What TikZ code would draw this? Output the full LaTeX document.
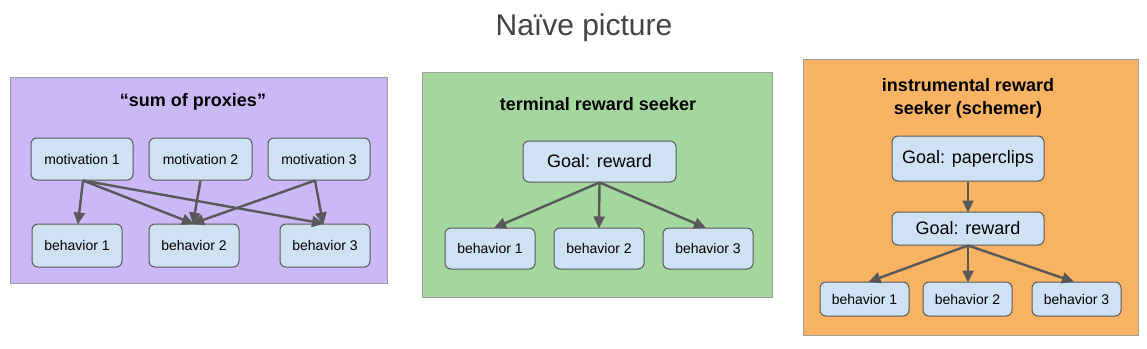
\documentclass[tikz,border=0pt]{standalone}
\usepackage{fontspec}
\setmainfont{Liberation Sans}
\usetikzlibrary{arrows.meta,calc}
\definecolor{titlegray}{HTML}{434343}
\definecolor{purplebg}{HTML}{CBB8F7}
\definecolor{greenbg}{HTML}{A4D79E}
\definecolor{orangebg}{HTML}{F9B463}
\definecolor{nodefill}{HTML}{CFE2F3}
\definecolor{nodeline}{HTML}{595959}
\definecolor{framegray}{HTML}{9E9E9E}
\definecolor{arrowgray}{HTML}{595959}
\tikzset{
  panel/.style={draw=framegray, line width=1pt},
  paneltitle/.style={font=\bfseries\fontsize{18}{23}\selectfont, align=center, text=black},
  smallbox/.style={draw=nodeline, fill=nodefill, rounded corners=6pt, line width=1pt,
    font=\fontsize{14}{16}\selectfont, inner sep=0pt},
  bigbox/.style={draw=nodeline, fill=nodefill, rounded corners=6pt, line width=1pt,
    font=\fontsize{18}{20}\selectfont, inner sep=0pt},
  conn/.style={draw=arrowgray, line width=2.4pt, -{Triangle[length=12pt,width=11pt]}, shorten >=-1pt},
}
\begin{document}
\begin{tikzpicture}[x=1pt,y=-1pt]
\useasboundingbox (0,0) rectangle (1147,348);
\fill[white] (0,0) rectangle (1147,348);
% main title
\node[font=\fontsize{30}{34}\selectfont, text=titlegray] (maintitle) at (584,28) {Naïve picture};

% ---------- left panel ----------
\draw[panel, fill=purplebg] (10,77) rectangle (387,283);
\node[paneltitle] (lt) at (193,102) {“sum of proxies”};
\node[smallbox, minimum width=102pt, minimum height=42pt] (m1) at (82,159) {motivation 1};
\node[smallbox, minimum width=103pt, minimum height=42pt] (m2) at (200.5,159) {motivation 2};
\node[smallbox, minimum width=102pt, minimum height=42pt] (m3) at (319,159) {motivation 3};
\node[smallbox, minimum width=90pt, minimum height=43pt] (lb1) at (77,245.5) {behavior 1};
\node[smallbox, minimum width=90pt, minimum height=43pt] (lb2) at (194,245.5) {behavior 2};
\node[smallbox, minimum width=90pt, minimum height=43pt] (lb3) at (325,245.5) {behavior 3};
\draw[conn] ([xshift=1pt]m1.south) -- ([xshift=1pt]lb1.north);
\draw[conn] ([xshift=1pt]m1.south) -- ([xshift=-1pt]lb2.north);
\draw[conn] ([xshift=1pt]m1.south) -- ([xshift=-2pt]lb3.north);
\draw[conn] (m2.south) -- ([xshift=-1pt]lb2.north);
\draw[conn] ([xshift=-4pt]m3.south) -- ([xshift=-1pt]lb2.north);
\draw[conn] ([xshift=-4pt]m3.south) -- ([xshift=-2pt]lb3.north);

% ---------- middle panel ----------
\draw[panel, fill=greenbg] (422,72) rectangle (772,297);
\node[paneltitle] (mt) at (598,104) {terminal reward seeker};
\node[bigbox, minimum width=153pt, minimum height=41pt] (mg) at (599.5,161.5) {Goal: reward};
\node[smallbox, minimum width=90pt, minimum height=41pt] (mb1) at (490,248.5) {behavior 1};
\node[smallbox, minimum width=90pt, minimum height=41pt] (mb2) at (599,248.5) {behavior 2};
\node[smallbox, minimum width=90pt, minimum height=41pt] (mb3) at (708,248.5) {behavior 3};
\draw[conn] (mg.south) -- ([xshift=5pt]mb1.north);
\draw[conn] (mg.south) -- (mb2.north);
\draw[conn] (mg.south) -- ([xshift=-3pt]mb3.north);

% ---------- right panel ----------
\draw[panel, fill=orangebg] (803,59) rectangle (1138,335);
\node[paneltitle] (rt) at (968,98.5) {instrumental reward\\seeker (schemer)};
\node[bigbox, minimum width=152pt, minimum height=45pt] (rp) at (968,158.5) {Goal: paperclips};
\node[bigbox, minimum width=152pt, minimum height=33pt] (rg) at (968,228.5) {Goal: reward};
\node[smallbox, minimum width=89pt, minimum height=34pt] (rb1) at (864.5,299) {behavior 1};
\node[smallbox, minimum width=89pt, minimum height=34pt] (rb2) at (967.5,299) {behavior 2};
\node[smallbox, minimum width=89pt, minimum height=34pt] (rb3) at (1076.5,299) {behavior 3};
\draw[conn] (rp.south) -- (rg.north);
\draw[conn] (rg.south) -- ([xshift=5pt]rb1.north);
\draw[conn] (rg.south) -- ([xshift=0.5pt]rb2.north);
\draw[conn] (rg.south) -- ([xshift=-3.5pt]rb3.north);
\end{tikzpicture}
\end{document}
